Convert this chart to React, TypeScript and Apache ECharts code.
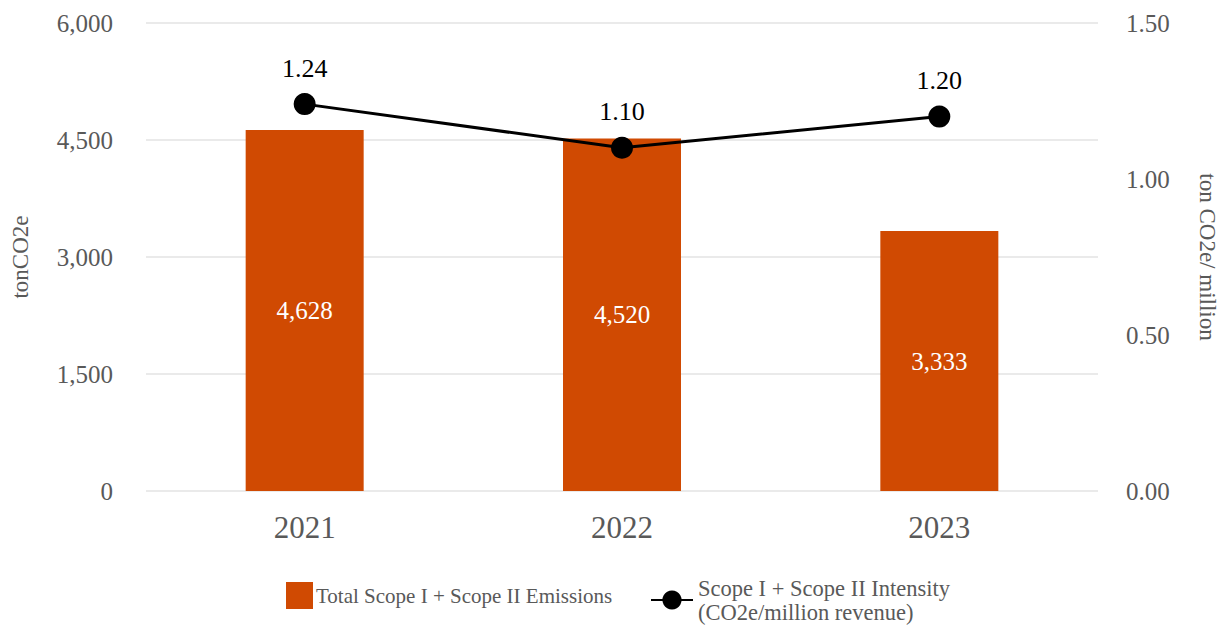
import React, { useEffect, useRef } from "react";
import * as echarts from "echarts";

const categories = ["2021", "2022", "2023"];
const emissions = [4628, 4520, 3333];
const intensity = [1.24, 1.1, 1.2];
const barName = "Total Scope I + Scope II Emissions";
const lineName = "Scope I + Scope II Intensity\n(CO2e/million revenue)";

const FONT = "'Liberation Serif', serif";

export default function App() {
  const ref = useRef<HTMLDivElement>(null);
  useEffect(() => {
    const chart = echarts.init(ref.current!, null, { renderer: "svg" });
    const fmt = (v: number) => v.toLocaleString("en-US");
    chart.setOption({
      animation: false,
      textStyle: { fontFamily: FONT },
      grid: { left: 146, right: 127, top: 23, bottom: 137 },
      legend: [
        {
          data: [barName],
          left: 281,
          top: 577,
          itemWidth: 27,
          itemHeight: 27,
          itemGap: 10,
          icon: "rect",
          textStyle: { fontFamily: FONT, fontSize: 21, color: "#595959", padding: [0, 0, 0, -2] },
        },
        {
          data: [lineName],
          left: 645,
          top: 571,
          itemWidth: 42,
          itemHeight: 24,
          textStyle: { fontFamily: FONT, fontSize: 22.5, color: "#595959", lineHeight: 24, padding: [0, 0, 0, 0] },
        },
      ],
      xAxis: {
        type: "category",
        data: categories,
        axisLine: { show: false },
        axisTick: { show: false },
        axisLabel: { fontFamily: FONT, fontSize: 31, color: "#595959", margin: 21 },
      },
      yAxis: [
        {
          type: "value",
          min: 0,
          max: 6000,
          interval: 1500,
          name: "tonCO2e",
          nameLocation: "middle",
          nameGap: 114,
          nameTextStyle: { fontFamily: FONT, fontSize: 23, color: "#595959" },
          axisLabel: { fontFamily: FONT, fontSize: 25, color: "#595959", margin: 33, formatter: fmt },
          splitLine: { lineStyle: { color: "#e3e3e3", width: 1.5 } },
        },
        {
          type: "value",
          min: 0,
          max: 1.5,
          interval: 0.5,
          name: "ton CO2e/ million",
          nameLocation: "middle",
          nameRotate: -90,
          nameGap: 98,
          nameTextStyle: { fontFamily: FONT, fontSize: 23, color: "#595959" },
          axisLabel: {
            fontFamily: FONT,
            fontSize: 25,
            color: "#595959",
            margin: 28,
            formatter: (v: number) => v.toFixed(2),
          },
          splitLine: { show: false },
        },
      ],
      series: [
        {
          name: barName,
          type: "bar",
          data: emissions,
          barWidth: 118,
          itemStyle: { color: "#d04a02" },
          label: {
            show: true,
            position: "inside",
            color: "#ffffff",
            fontFamily: FONT,
            fontSize: 25,
            formatter: (p: any) => fmt(p.value),
          },
        },
        {
          name: lineName,
          type: "line",
          yAxisIndex: 1,
          data: intensity,
          symbol: "circle",
          symbolSize: 22,
          itemStyle: { color: "#000000" },
          lineStyle: { color: "#000000", width: 3 },
          label: {
            show: true,
            position: "top",
            distance: 12,
            color: "#000000",
            fontFamily: FONT,
            fontSize: 26,
            formatter: (p: any) => p.value.toFixed(2),
          },
        },
      ],
    });
    return () => chart.dispose();
  }, []);
  return <div ref={ref} style={{ width: 1227, height: 628, marginLeft: -8, marginTop: -8 }} />;
}
